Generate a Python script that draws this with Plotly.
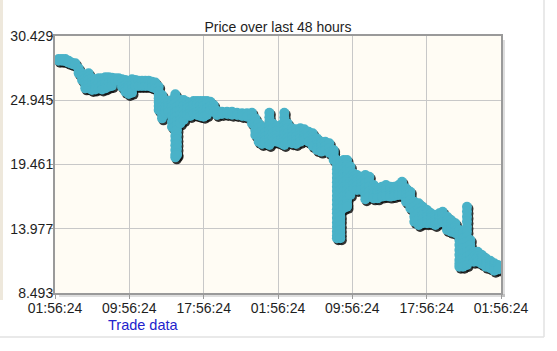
import datetime as dt
import plotly.graph_objects as go

# ---------------- data ----------------
start_label = "2014-01-01 01:56:24"
window_hours = 48
tick_step_hours = 8

y_ticks = [8.493, 13.977, 19.461, 24.945, 30.429]
y_tick_text = ["8.493", "13.977", "19.461", "24.945", "30.429"]

# hours after the window start at which trades happened
trade_hours = [
    0.39, 0.75, 1.11, 1.47, 1.83, 2.19, 2.55, 2.91, 3.26, 3.62,
    3.98, 4.34, 4.70, 5.06, 5.42, 5.78, 6.13, 6.49, 6.85, 7.21,
    7.57, 7.93, 8.29, 8.65, 9.00, 9.36, 9.72, 10.08, 10.44, 10.80,
    11.16, 11.52, 11.87, 12.23, 12.59, 12.95, 13.13, 13.49, 13.85, 14.21,
    14.56, 14.92, 15.28, 15.64, 16.00, 16.36, 16.72, 17.08, 17.44, 17.97,
    18.51, 19.05, 19.59, 20.13, 20.66, 21.20, 21.56, 21.92, 22.28, 22.64,
    23.07, 23.43, 23.89, 24.32, 24.68, 25.04, 25.51, 25.94, 26.40, 26.83,
    27.30, 27.73, 28.20, 28.66, 29.09, 29.52, 29.99, 30.34, 30.71, 31.07,
    31.43, 31.79, 32.14, 32.50, 32.93, 33.40, 33.83, 34.30, 34.73, 35.19,
    35.62, 36.09, 36.52, 36.99, 37.35, 37.78, 38.24, 38.67, 39.14, 39.57,
    40.04, 40.47, 40.93, 41.36, 41.72, 42.19, 42.62, 43.09, 43.52, 43.91,
    44.34, 44.70, 45.06, 45.49, 45.95, 46.38, 46.85, 47.28, 47.68,
]

# prices of the trades made at each of those hours
trade_prices = [
    [28.46, 28.32], [28.46, 28.32], [28.46, 28.27], [28.32, 28.15], [28.15, 28.04],
    [28.10, 27.93], [27.67, 27.40, 27.24], [27.24, 26.95, 26.67], [26.82, 26.50, 26.25, 25.96], [27.24, 26.95, 26.67, 26.30, 25.96],
    [26.82, 26.50, 26.25, 25.82], [26.73, 26.40, 26.10, 25.87], [26.82, 26.39, 25.96], [26.82, 26.50, 26.25, 25.87], [26.90, 26.60, 26.39, 25.96],
    [26.90, 26.45, 26.10], [26.87, 26.53, 26.16], [26.82, 26.62], [26.82, 26.62], [26.73, 26.39, 26.10],
    [26.67, 26.25, 25.95, 25.68], [26.53, 26.20, 25.96, 25.48], [26.73, 26.25, 25.90, 25.59], [26.67, 26.40, 26.16], [26.62, 26.16],
    [26.62, 26.16], [26.62, 26.16], [26.62, 26.16], [26.53, 26.05], [26.45, 25.96],
    [26.10, 25.70, 25.40, 25.11, 24.80, 24.45, 24.11], [25.39, 25.00, 24.70, 24.40, 24.05, 23.70, 23.40],
    [24.97, 24.70, 24.40, 24.10, 23.83], [24.82, 24.50, 24.25, 23.97], [24.97, 24.70, 24.40, 24.00, 23.54, 23.10, 22.69],
    [25.45, 25.10, 24.70, 24.30, 23.90, 23.50, 23.10, 22.70, 22.30, 21.90, 21.50, 21.10, 20.70, 20.30, 20.07],
    [24.40, 24.00, 23.60, 23.20, 22.80, 22.40, 22.00, 21.60, 21.20, 20.80, 20.40, 20.27],
    [24.97, 24.60, 24.11, 23.70, 23.26, 22.97], [24.97, 24.50, 24.11, 23.70, 23.26], [24.82, 24.50, 24.25, 23.95, 23.69],
    [24.68, 24.40, 24.11, 23.85, 23.60], [24.88, 24.55, 24.25, 24.00, 23.77], [24.88, 24.55, 24.25, 23.95, 23.69],
    [24.88, 24.50, 24.11, 23.85, 23.60], [24.88, 24.50, 24.11, 23.80, 23.54],
    [24.88, 24.55, 24.25, 23.95, 23.69], [24.82, 24.45, 24.11], [24.54, 24.25, 23.97], [24.05, 23.69], [23.97, 23.77],
    [23.97, 23.77], [23.97, 23.71], [23.88, 23.69], [23.83, 23.60], [23.83, 23.54],
    [23.88, 23.40, 22.97], [23.40, 23.05, 22.69, 22.35, 21.98], [22.97, 22.55, 22.12, 21.75, 21.41],
    [22.69, 22.25, 21.84, 21.50, 21.21], [22.55, 22.20, 21.84, 21.55, 21.27],
    [23.88, 23.50, 23.12, 22.75, 22.41, 22.05, 21.69, 21.40, 21.13], [22.97, 22.55, 22.12, 21.75, 21.41],
    [22.69, 22.35, 21.98, 21.70, 21.41], [22.83, 22.40, 21.98, 21.60, 21.27],
    [23.88, 23.50, 23.12, 22.75, 22.41, 22.05, 21.69, 21.40, 21.13], [22.97, 22.55, 22.12, 21.75, 21.41],
    [22.55, 22.20, 21.84, 21.55, 21.27], [22.46, 22.15, 21.84, 21.50, 21.21],
    [22.55, 22.25, 21.98, 21.70, 21.41], [22.46, 22.20, 21.98, 21.75, 21.55],
    [22.26, 21.84, 21.41], [22.12, 21.80, 21.55, 21.30, 21.04], [21.69, 21.40, 21.13, 20.90, 20.70],
    [21.41, 21.20, 20.98, 20.75, 20.56], [21.41, 21.04, 20.70],
    [21.27, 20.84, 20.47], [20.70, 20.50, 20.27, 20.05, 19.84],
    [19.84, 19.45, 19.05, 18.70, 18.30, 17.95, 17.57, 17.20, 16.80, 16.43, 16.05, 15.65, 15.29, 14.90, 14.50, 14.15, 13.75, 13.40, 13.16],
    [19.56, 19.20, 18.80, 18.42, 18.05, 17.65, 17.28, 16.90, 16.50, 16.15, 15.75, 15.40, 15.01, 14.65, 14.25, 13.87, 13.50, 13.16],
    [19.84, 19.45, 19.05, 18.70, 18.30, 17.95, 17.57, 17.20, 16.80, 16.43, 16.05, 15.72],
    [19.84, 19.40, 18.99, 18.55, 18.14, 17.70, 17.28, 16.85, 16.43, 16.10, 15.86],
    [19.28, 18.85, 18.42, 18.00, 17.57, 17.20, 16.86], [18.70, 18.40, 18.14, 17.80, 17.43],
    [18.56, 18.25, 17.99, 17.65, 17.28], [18.42, 18.15, 17.85, 17.55, 17.28],
    [18.56, 18.20, 17.85, 17.50, 17.14, 16.80, 16.49], [18.42, 18.00, 17.57, 17.15, 16.72],
    [17.71, 17.40, 17.14, 16.85, 16.57], [17.43, 17.20, 17.00, 16.80, 16.57], [17.57, 17.35, 17.14, 16.95, 16.72],
    [17.71, 17.50, 17.28, 17.00, 16.77], [17.57, 17.35, 17.14, 16.95, 16.72], [17.57, 17.35, 17.14, 16.95, 16.77],
    [17.71, 17.50, 17.28, 17.05, 16.86], [17.99, 17.70, 17.43, 17.15, 16.86],
    [17.43, 17.15, 16.86, 16.55, 16.29], [17.14, 16.80, 16.43, 16.05, 15.72], [16.29, 15.85, 15.43, 15.00, 14.58],
    [16.15, 15.70, 15.29, 14.80, 14.30], [15.86, 15.50, 15.15, 14.80, 14.44],
    [15.57, 15.30, 15.01, 14.70, 14.44], [15.29, 15.05, 14.86, 14.65, 14.44], [15.15, 14.95, 14.72, 14.50, 14.30],
    [15.29, 15.05, 14.86, 14.65, 14.50], [15.43, 15.20, 15.01, 14.80, 14.58],
    [15.01, 14.70, 14.44, 14.15, 13.87], [14.72, 14.45, 14.15, 13.95, 13.73], [14.44, 14.20, 14.01, 13.80, 13.59],
    [13.87, 13.45, 13.02, 12.60, 12.16, 11.75, 11.31, 11.00, 10.74],
    [13.59, 13.15, 12.73, 12.30, 11.88, 11.45, 11.03, 10.74],
    [15.86, 15.45, 15.01, 14.60, 14.15, 13.75, 13.30, 12.90, 12.45, 12.00, 11.59, 11.20, 10.88],
    [13.02, 12.60, 12.16, 11.75, 11.31], [12.02, 11.80, 11.59, 11.40, 11.17],
    [12.02, 11.80, 11.59, 11.40, 11.17], [11.74, 11.50, 11.31, 11.15, 10.97], [11.45, 11.25, 11.08, 10.90, 10.74],
    [11.25, 11.05, 10.88, 10.75, 10.60], [11.03, 10.85, 10.68, 10.55, 10.40], [10.88, 10.70, 10.51],
]

# ---------------- build ----------------
start = dt.datetime.strptime(start_label, "%Y-%m-%d %H:%M:%S")
end = start + dt.timedelta(hours=window_hours)
tick_vals = [start + dt.timedelta(hours=h) for h in range(0, window_hours + 1, tick_step_hours)]

xs, ys = [], []
for h, plist in zip(trade_hours, trade_prices):
    for p in plist:
        xs.append(start + dt.timedelta(hours=h))
        ys.append(p)

# drop-shadow offset (style): ~1.5 px right, ~2 px down
shadow_dt = dt.timedelta(hours=0.16)
shadow_dy = 0.17
xs_sh = [x + shadow_dt for x in xs]
ys_sh = [y - shadow_dy for y in ys]

W, H = 557, 351
L, R, T, B = 55, 56, 36, 58
pw, ph = W - L - R, H - T - B

def px_x(px):
    return (px - L) / pw

def px_y(py):
    return (H - B - py) / ph

fig = go.Figure()
fig.add_trace(go.Scatter(
    x=xs_sh, y=ys_sh, mode="markers",
    marker=dict(size=10, color="rgba(15,15,15,0.85)", line=dict(width=0)),
    hoverinfo="skip", showlegend=False,
))
fig.add_trace(go.Scatter(
    x=xs, y=ys, mode="markers", name="Trade data",
    marker=dict(size=10, color="#4AB2C8", line=dict(width=0)),
    showlegend=False,
))

font_family = "Arial, Liberation Sans, sans-serif"

shapes = [
    dict(type="line", xref="paper", yref="paper",
         x0=px_x(544), x1=px_x(544), y0=px_y(0), y1=px_y(337),
         line=dict(color="#E2E2E2", width=1.5), layer="below"),
    dict(type="line", xref="paper", yref="paper",
         x0=px_x(0), x1=px_x(544), y0=px_y(337), y1=px_y(337),
         line=dict(color="#E2E2E2", width=1.5), layer="below"),
    dict(type="rect", xref="paper", yref="paper",
         x0=px_x(0), x1=px_x(3), y0=px_y(0), y1=px_y(300),
         fillcolor="#EEE8DC", line=dict(width=0), layer="below"),
    dict(type="rect", xref="paper", yref="paper",
         x0=px_x(502), x1=px_x(505), y0=px_y(40), y1=px_y(297),
         fillcolor="rgba(0,0,0,0.13)", line=dict(width=0), layer="below"),
    dict(type="rect", xref="paper", yref="paper",
         x0=px_x(59), x1=px_x(505), y0=px_y(294), y1=px_y(297),
         fillcolor="rgba(0,0,0,0.13)", line=dict(width=0), layer="below"),
]

fig.update_layout(
    width=W, height=H,
    margin=dict(l=L, r=R, t=T, b=B, autoexpand=False),
    paper_bgcolor="white",
    plot_bgcolor="#FFFCF4",
    font=dict(family=font_family, size=14, color="#1E1E1E"),
    title=dict(text="Price over last 48 hours", x=278 / W,
               xanchor="center", y=1 - 27 / H, yanchor="middle",
               font=dict(size=14, color="#1E1E1E")),
    shapes=shapes,
    annotations=[dict(text="Trade data", xref="paper", yref="paper",
                      x=px_x(143), y=px_y(325), xanchor="center", yanchor="middle",
                      showarrow=False, font=dict(size=14.5, color="#2222CC"))],
)

fig.update_xaxes(
    type="date", range=[start, end], tickvals=tick_vals, tickformat="%H:%M:%S",
    showgrid=True, gridcolor="#C8C8C8", gridwidth=1,
    showline=True, linecolor="#9A9A9A", linewidth=2, mirror=True,
    ticks="outside", ticklen=4, tickcolor="#9A9A9A", ticklabelstandoff=-3,
    zeroline=False, tickfont=dict(size=14), automargin=False,
)
fig.update_yaxes(
    range=[y_ticks[0], y_ticks[-1]], tickvals=y_ticks, ticktext=y_tick_text,
    showgrid=True, gridcolor="#C8C8C8", gridwidth=1,
    showline=True, linecolor="#9A9A9A", linewidth=2, mirror=True,
    ticks="outside", ticklen=4, tickcolor="#9A9A9A", ticklabelstandoff=-7,
    zeroline=False, tickfont=dict(size=14), automargin=False,
)

fig.write_html("out.html")
